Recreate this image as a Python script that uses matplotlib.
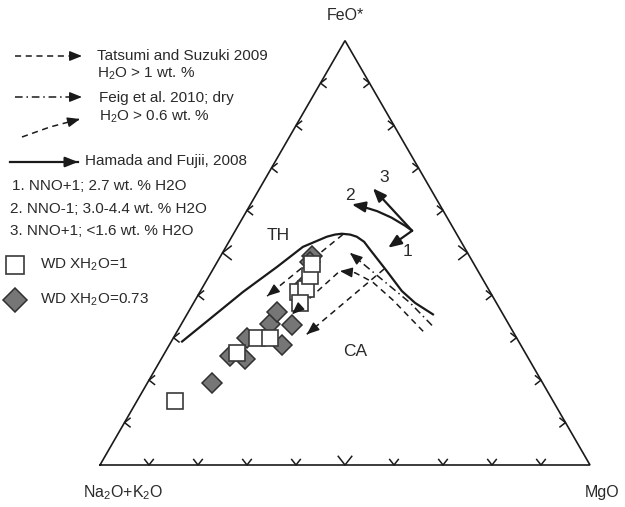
# AFM ternary diagram (Na2O+K2O - FeO* - MgO) with experimental liquid lines of descent
import numpy as np
import matplotlib.pyplot as plt

plt.rcParams['font.family'] = ['Liberation Sans', 'DejaVu Sans']
plt.rcParams['mathtext.fontset'] = 'custom'
plt.rcParams['mathtext.rm'] = 'Liberation Sans'

# WD experimental glasses, wt.% FeO* and MgO (Na2O+K2O is the rest)
sq_feo = [15.0, 26.5, 29.9, 29.9, 40.8, 41.5, 38.2, 44.5, 47.4]
sq_mgo = [7.8, 14.7, 17.1, 19.7, 20.0, 21.3, 21.7, 20.6, 19.6]
dm_feo = [19.4, 25.8, 24.9, 29.9, 28.2, 33.2, 36.0, 32.9, 49.3, 47.9, 42.2]
dm_mgo = [13.2, 13.6, 17.2, 15.0, 23.0, 18.1, 18.1, 22.7, 18.6, 18.9, 20.3]

# tholeiitic / calc-alkaline divide (Hamada and Fujii, 2008)
th_feo = [29.1, 34.4, 40.8, 46.7, 51.4, 53.8, 54.3, 54.5, 54.3, 53.8, 52.6, 50.7, 46.2, 41.0, 38.2, 35.5]
th_mgo = [2.2, 5.2, 8.8, 12.8, 15.7, 19.4, 20.8, 22.1, 23.9, 25.5, 27.6, 29.8, 35.1, 41.1, 45.2, 50.2]

# Tatsumi and Suzuki 2009 trends
ts1_feo = [54.3, 39.8]
ts1_mgo = [22.4, 14.2]
ts2_feo = [46.2, 30.8]
ts2_mgo = [34.9, 26.8]

# Feig et al. 2010, dry and wet trends
fd_feo = [32.9, 38.2, 44.1, 50.0]
fd_mgo = [51.3, 44.2, 35.1, 26.0]
fw_feo = [31.5, 38.9, 43.1, 45.3, 45.7]
fw_mgo = [50.2, 40.3, 34.1, 29.4, 26.1]
fw2_feo = [45.3, 35.5]
fw2_mgo = [25.9, 21.4]

# Hamada and Fujii runs 1-3: start point and arrow tips
hf_start = (55.2, 36.1)
hf_tips = {'1': (51.2, 33.2), '2': (61.4, 20.7), '3': (65.2, 23.1)}

H = np.sqrt(3) / 2
INK = '#1a1a1a'
TXT = '#2a2a2a'


def tern(feo, mgo):
    feo = np.asarray(feo) / 100.0
    mgo = np.asarray(mgo) / 100.0
    return mgo + feo / 2, feo * H


def px(x, y):
    # figure pixel position -> axes data position
    return (x - 100) / 490.0, (465 - y) / 490.0


def head(ax, xs, ys, lw=1.0):
    # solid arrow head at the last point of a path
    dx, dy = xs[-1] - xs[-2], ys[-1] - ys[-2]
    n = np.hypot(dx, dy)
    start = (xs[-1] - 0.02 * dx / n, ys[-1] - 0.02 * dy / n)
    ax.annotate('', xy=(xs[-1], ys[-1]), xytext=start,
                arrowprops=dict(arrowstyle='-|>,head_length=0.75,head_width=0.3',
                                color=INK, lw=lw, shrinkA=0, shrinkB=0))


fig = plt.figure(figsize=(6.25, 5.07), dpi=100)
ax = fig.add_axes([0, 0, 1, 1])
ax.set_xlim(-100 / 490, 525 / 490)
ax.set_ylim(-42 / 490, 465 / 490)
ax.axis('off')

# triangle frame
ax.plot([0, 1, 0.5, 0], [0, 0, H, 0], color=INK, lw=1.2, solid_joinstyle='miter')

# chevron ticks every 10 %
ang = np.radians(38)
for k in range(1, 10):
    f = k / 10
    s = (11 if k == 5 else 7) / 490.0
    # bottom
    vx, vy = f, 0
    ax.plot([vx - s * np.sin(ang), vx, vx + s * np.sin(ang)],
            [s * np.cos(ang), vy, s * np.cos(ang)], color=INK, lw=1.1)
    # left side
    vx, vy = f / 2, f * H
    ax.plot([vx + s * np.cos(ang), vx, vx + s * np.cos(ang)],
            [vy + s * np.sin(ang), vy, vy - s * np.sin(ang)], color=INK, lw=1.1)
    # right side
    vx, vy = 1 - f / 2, f * H
    ax.plot([vx - s * np.cos(ang), vx, vx - s * np.cos(ang)],
            [vy + s * np.sin(ang), vy, vy - s * np.sin(ang)], color=INK, lw=1.1)

# TH / CA divide
x, y = tern(th_feo, th_mgo)
ax.plot(x, y, color=INK, lw=1.6)

# Tatsumi and Suzuki trends
for fe, mg in [(ts1_feo, ts1_mgo), (ts2_feo, ts2_mgo)]:
    x, y = tern(fe, mg)
    ax.plot(x, y, color=INK, lw=1.1, dashes=(4, 3))
    head(ax, x, y)

# Feig dry (dash-dot) and wet (dashed) trends
x, y = tern(fd_feo, fd_mgo)
ax.plot(x, y, color=INK, lw=1.1, dashes=(5, 2.5, 1, 2.5))
head(ax, x, y)
for fe, mg in [(fw_feo, fw_mgo), (fw2_feo, fw2_mgo)]:
    x, y = tern(fe, mg)
    ax.plot(x, y, color=INK, lw=1.1, dashes=(4, 3))
    head(ax, x, y)

# Hamada and Fujii run directions
x0, y0 = tern(*hf_start)
for lab, (fe, mg) in hf_tips.items():
    x1, y1 = tern(fe, mg)
    rad = 0.12 if lab == '2' else 0.0
    ax.annotate('', xy=(x1, y1), xytext=(x0, y0),
                arrowprops=dict(arrowstyle='-|>,head_length=0.8,head_width=0.32',
                                color=INK, lw=1.6, shrinkA=0, shrinkB=0,
                                connectionstyle=f'arc3,rad={rad}'))

# experimental glasses
x, y = tern(dm_feo, dm_mgo)
ax.plot(x, y, 'D', ms=9.8, mfc='#767676', mec='#303030', mew=1.1, ls='none')
x, y = tern(sq_feo, sq_mgo)
ax.plot(x, y, 's', ms=11, mfc='white', mec='#3a3a3a', mew=1.2, ls='none')

# labels inside the diagram
for t, (tx, ty) in {'TH': (278, 235), 'CA': (355, 352), '1': (407, 252),
                    '2': (350, 196), '3': (384, 178)}.items():
    ax.text(*px(tx, ty), t, fontsize=12.5, color=TXT, ha='center', va='center')

# apex labels
ax.text(*px(345, 15), 'FeO*', fontsize=11.5, color=TXT, ha='center', va='center')
ax.text(*px(123, 493), 'Na$_2$O+K$_2$O', fontsize=11.5, color=TXT, ha='center', va='center')
ax.text(*px(602, 493), 'MgO', fontsize=11.5, color=TXT, ha='center', va='center')

# legend
lx, ly = zip(*[px(15, 56), px(74, 56)])
ax.plot(lx, ly, color=INK, lw=1.1, dashes=(4, 3))
lx, ly = zip(*[px(15, 56), px(82, 56)])
head(ax, lx, ly)
lx, ly = zip(*[px(15, 97), px(74, 97)])
ax.plot(lx, ly, color=INK, lw=1.1, dashes=(5, 2.5, 1, 2.5))
lx, ly = zip(*[px(15, 97), px(82, 97)])
head(ax, lx, ly)
lx, ly = zip(*[px(22, 137), px(50, 127), px(80, 119)])
ax.plot(lx, ly, color=INK, lw=1.1, dashes=(4, 3))
head(ax, lx, ly)
lx, ly = zip(*[px(10, 162), px(78, 162)])
ax.plot(lx, ly, color=INK, lw=1.6)
head(ax, lx, ly, lw=1.6)

legend_text = [
    (97, 56, 'Tatsumi and Suzuki 2009'),
    (97, 74, 'H$_2$O > 1 wt. %'),
    (99, 98, 'Feig et al. 2010; dry'),
    (99, 117, 'H$_2$O > 0.6 wt. %'),
    (85, 161, 'Hamada and Fujii, 2008'),
    (12, 186, '1. NNO+1; 2.7 wt. % H2O'),
    (10, 209, '2. NNO-1; 3.0-4.4 wt. % H2O'),
    (10, 231, '3. NNO+1; <1.6 wt. % H2O'),
    (40, 265, 'WD XH$_2$O=1'),
    (40, 300, 'WD XH$_2$O=0.73'),
]
for tx, ty, t in legend_text:
    ax.text(*px(tx, ty), t, fontsize=11, color=TXT, ha='left', va='center')

ax.plot(*px(15, 265), 's', ms=13.5, mfc='white', mec='#3a3a3a', mew=1.2)
ax.plot(*px(15, 300), 'D', ms=12.5, mfc='#767676', mec='#303030', mew=1.1)

fig.savefig('out.png', dpi=100)
